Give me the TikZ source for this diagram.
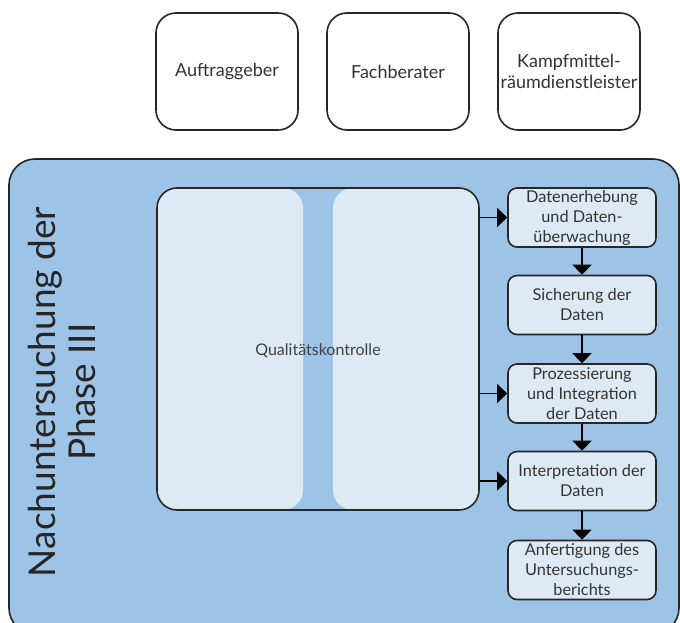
\documentclass[tikz,border=0pt]{standalone}
\usepackage{fontspec}
\setmainfont{Lato}
\usetikzlibrary{arrows.meta}
\definecolor{phaseblue}{HTML}{9DC3E6}
\definecolor{lightblue}{HTML}{DDEAF6}
\definecolor{edge}{HTML}{262626}
\tikzset{
  topbox/.style={draw=edge, line width=1.6pt, rounded corners=20pt, fill=white,
    minimum width=142pt, minimum height=117pt, align=center, font=\fontsize{18}{21}\selectfont, text=black!80, inner sep=0pt},
  stepbox/.style={draw=edge, line width=1.6pt, rounded corners=9pt, fill=lightblue,
    minimum width=148pt, minimum height=59pt, align=center, font=\fontsize{16.3}{20}\selectfont, text=black!80, inner sep=0pt},
  conn/.style={line width=1.6pt, draw=black, -{Triangle[width=19pt,length=10pt]}}
}
\begin{document}
\begin{tikzpicture}[x=1pt,y=-1pt]
\useasboundingbox (0,0) rectangle (680,623);
% top boxes
\node[topbox] (auf) at (227,71.5) {Auftraggeber};
\node[topbox] (fach) at (398,71.5) {Fachberater};
\node[topbox] (kmr) at (569,71.5) {Kampfmittel-\\räumdienstleister};
% phase container
\node[draw=edge, line width=1.6pt, fill=phaseblue, rounded corners=26pt,
  minimum width=670pt, minimum height=475pt, inner sep=0pt] (phase) at (344,396.5) {};
\node[rotate=90, align=center, font=\fontsize{37}{40}\selectfont, text=black!85] (ptitle) at (62,392)
  {Nachuntersuchung der\\Phase III};
% quality control
\fill[lightblue, rounded corners=20pt] (157,188) rectangle (303,510);
\fill[lightblue, rounded corners=20pt] (333,188) rectangle (479,510);
\node[draw=edge, line width=1.6pt, rounded corners=20pt, minimum width=322pt, minimum height=322pt, inner sep=0pt] (qk) at (318,349) {};
\node[font=\fontsize{16}{18}\selectfont, text=black!75] (qktext) at (318,351) {Qualitätskontrolle};
% steps
\node[stepbox] (s1) at (582,217.5) {Datenerhebung\\und Daten-\\überwachung};
\node[stepbox] (s2) at (582,305) {Sicherung der\\Daten};
\node[stepbox] (s3) at (582,393.5) {Prozessierung\\und Integration\\der Daten};
\node[stepbox] (s4) at (582,481) {Interpretation der\\Daten};
\node[stepbox] (s5) at (582,570) {Anfertigung des\\Untersuchungs-\\berichts};
% connectors
\draw[conn] (s1) -- (s2);
\draw[conn] (s2) -- (s3);
\draw[conn] (s3) -- (s4);
\draw[conn] (s4) -- (s5);
\draw[conn] (qk.east |- s1.west) -- (s1.west);
\draw[conn] (qk.east |- s3.west) -- (s3.west);
\draw[conn] (qk.east |- s4.west) -- (s4.west);
\end{tikzpicture}
\end{document}
